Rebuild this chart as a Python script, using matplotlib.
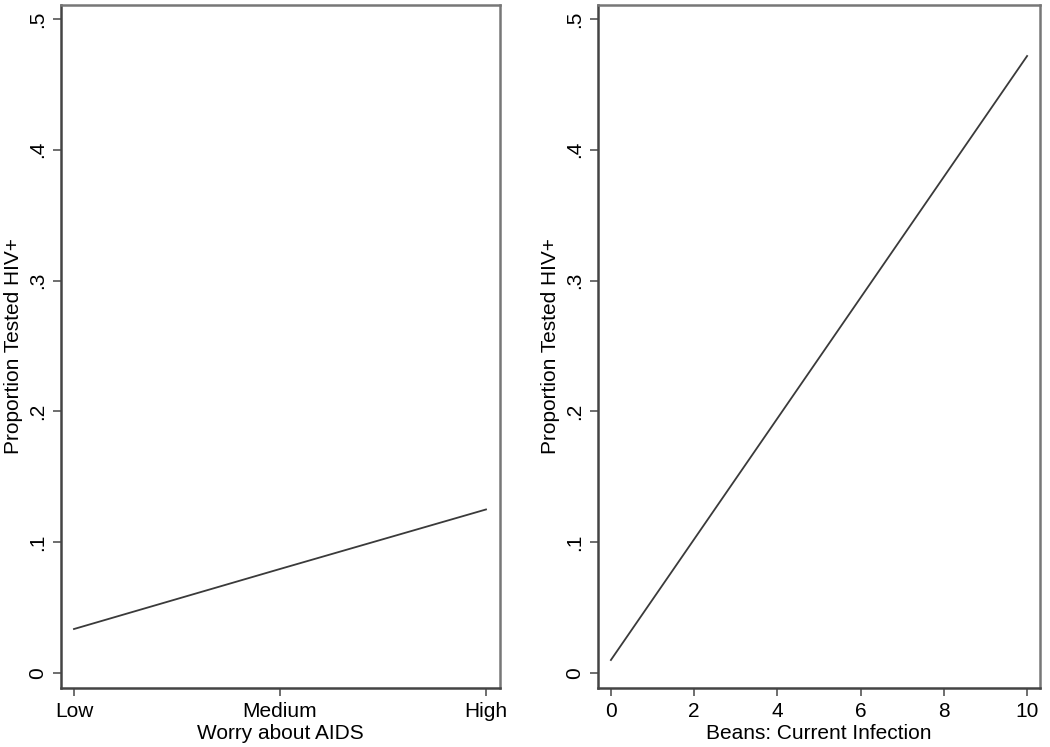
import matplotlib
matplotlib.use("Agg")
import matplotlib.pyplot as plt

plt.rcParams['font.family'] = ['Liberation Sans', 'DejaVu Sans']

# left panel: worry about AIDS
worry_x = [0, 1, 2]
worry_labels = ["Low", "Medium", "High"]
worry_y = [0.0336, 0.0795, 0.125]

# right panel: beans
beans_x = [0, 10]
beans_y = [0.0099, 0.4717]

y_ticks = [0, 0.1, 0.2, 0.3, 0.4, 0.5]
y_labels = ["0", ".1", ".2", ".3", ".4", ".5"]

fig = plt.figure(figsize=(10.5, 7.47), dpi=100)
ax1 = fig.add_axes([61/1050, 1 - 688/747, 439/1050, 683/747])
ax2 = fig.add_axes([598/1050, 1 - 688/747, 442/1050, 683/747])

line_col = "#3a3a3a"
spine_col = "#444444"
fs = 15


def style(ax):
    for s in ax.spines.values():
        s.set_linewidth(1.8)
        s.set_color(spine_col)
    ax.spines['top'].set_color("#777777")
    ax.spines['right'].set_color("#777777")
    ax.set_ylim(-0.0115, 0.5107)
    ax.set_yticks(y_ticks)
    ax.set_yticklabels(y_labels, rotation=90, va="center", fontsize=fs)
    ax.tick_params(axis="both", length=6, width=1.2, color="#555555", labelsize=fs, pad=4)
    ax.set_ylabel("Proportion Tested HIV+", fontsize=fs, labelpad=4)


ax1.plot(worry_x, worry_y, color=line_col, linewidth=1.3)
style(ax1)
ax1.set_xlim(-0.063, 2.068)
ax1.set_xticks(worry_x)
ax1.set_xticklabels(worry_labels)
ax1.set_xlabel("Worry about AIDS", fontsize=fs, labelpad=2)

ax2.plot(beans_x, beans_y, color=line_col, linewidth=1.3)
style(ax2)
ax2.set_xlim(-0.31, 10.31)
ax2.set_xticks([0, 2, 4, 6, 8, 10])
ax2.set_xlabel("Beans: Current Infection", fontsize=fs, labelpad=2)

fig.savefig("out.png", dpi=100)
